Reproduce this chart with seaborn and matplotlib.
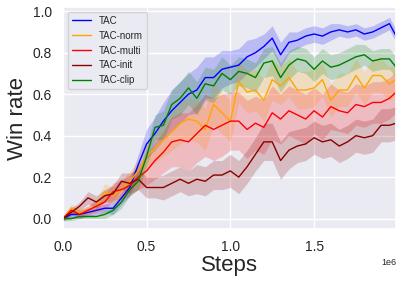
import numpy as np
import pandas as pd
import matplotlib
matplotlib.use("Agg")
import matplotlib.pyplot as plt
import seaborn as sns

# steps (in 1e6) at which the curves were read
steps = [0.0, 0.05, 0.1, 0.15, 0.2, 0.25, 0.3, 0.35, 0.4, 0.45,
         0.5, 0.55, 0.6, 0.65, 0.7, 0.75, 0.8, 0.85, 0.9, 0.95,
         1.0, 1.05, 1.1, 1.15, 1.2, 1.25, 1.3, 1.35, 1.4, 1.45,
         1.5, 1.55, 1.6, 1.65, 1.7, 1.75, 1.8, 1.85, 1.9, 1.95, 1.99]

tac = [0.0, 0.02, 0.02, 0.03, 0.04, 0.05, 0.05, 0.10, 0.15, 0.26,
       0.36, 0.41, 0.47, 0.52, 0.56, 0.60, 0.62, 0.68, 0.68, 0.72,
       0.73, 0.74, 0.78, 0.80, 0.83, 0.87, 0.79, 0.85, 0.86, 0.88,
       0.89, 0.88, 0.90, 0.91, 0.90, 0.91, 0.89, 0.90, 0.92, 0.94, 0.88]
tac_sd = [0.01, 0.02, 0.02, 0.02, 0.02, 0.02, 0.03, 0.03, 0.04, 0.05,
          0.07, 0.08, 0.09, 0.10, 0.10, 0.10, 0.11, 0.10, 0.10, 0.09,
          0.08, 0.08, 0.08, 0.07, 0.06, 0.06, 0.06, 0.05, 0.04, 0.04,
          0.04, 0.04, 0.04, 0.03, 0.03, 0.03, 0.03, 0.03, 0.03, 0.03, 0.03]

tac_norm = [0.0, 0.05, 0.03, 0.04, 0.06, 0.13, 0.11, 0.14, 0.18, 0.23,
            0.30, 0.34, 0.38, 0.42, 0.46, 0.48, 0.47, 0.43, 0.55, 0.51,
            0.47, 0.66, 0.61, 0.62, 0.57, 0.67, 0.64, 0.68, 0.62, 0.62,
            0.63, 0.67, 0.57, 0.62, 0.62, 0.69, 0.63, 0.69, 0.69, 0.65, 0.67]
tac_norm_sd = [0.01, 0.02, 0.02, 0.02, 0.03, 0.04, 0.04, 0.04, 0.05, 0.05,
               0.06, 0.07, 0.08, 0.09, 0.10, 0.10, 0.10, 0.10, 0.10, 0.10,
               0.10, 0.10, 0.10, 0.10, 0.10, 0.10, 0.09, 0.09, 0.09, 0.09,
               0.09, 0.08, 0.08, 0.08, 0.08, 0.08, 0.08, 0.08, 0.08, 0.08, 0.08]

tac_multi = [0.0, 0.04, 0.02, 0.04, 0.06, 0.08, 0.13, 0.14, 0.16, 0.20,
             0.23, 0.28, 0.32, 0.37, 0.38, 0.37, 0.41, 0.45, 0.43, 0.45,
             0.47, 0.47, 0.43, 0.46, 0.44, 0.51, 0.48, 0.52, 0.50, 0.48,
             0.52, 0.49, 0.54, 0.52, 0.51, 0.55, 0.54, 0.56, 0.56, 0.58, 0.61]
tac_multi_sd = [0.01, 0.02, 0.02, 0.02, 0.03, 0.04, 0.04, 0.05, 0.05, 0.06,
                0.07, 0.09, 0.10, 0.12, 0.13, 0.14, 0.14, 0.15, 0.15, 0.15,
                0.14, 0.14, 0.14, 0.13, 0.13, 0.13, 0.12, 0.12, 0.12, 0.12,
                0.11, 0.11, 0.11, 0.10, 0.10, 0.10, 0.10, 0.10, 0.10, 0.10, 0.10]

tac_init = [0.0, 0.03, 0.06, 0.10, 0.08, 0.11, 0.12, 0.18, 0.17, 0.19,
            0.15, 0.15, 0.15, 0.17, 0.19, 0.17, 0.19, 0.18, 0.21, 0.21,
            0.23, 0.20, 0.25, 0.31, 0.37, 0.37, 0.28, 0.33, 0.35, 0.36,
            0.39, 0.37, 0.38, 0.35, 0.37, 0.40, 0.39, 0.40, 0.45, 0.45, 0.46]
tac_init_sd = [0.01, 0.02, 0.02, 0.03, 0.03, 0.03, 0.04, 0.04, 0.05, 0.05,
               0.05, 0.05, 0.06, 0.06, 0.06, 0.06, 0.07, 0.07, 0.07, 0.07,
               0.08, 0.08, 0.08, 0.08, 0.09, 0.09, 0.09, 0.09, 0.08, 0.08,
               0.08, 0.08, 0.08, 0.08, 0.08, 0.08, 0.08, 0.08, 0.08, 0.08, 0.08]

tac_clip = [0.0, 0.0, 0.01, 0.01, 0.01, 0.02, 0.04, 0.08, 0.14, 0.18,
            0.30, 0.44, 0.45, 0.55, 0.58, 0.63, 0.58, 0.65, 0.64, 0.70,
            0.67, 0.71, 0.70, 0.68, 0.75, 0.76, 0.68, 0.74, 0.77, 0.76,
            0.72, 0.76, 0.73, 0.74, 0.76, 0.78, 0.79, 0.76, 0.77, 0.77, 0.73]
tac_clip_sd = [0.01, 0.01, 0.01, 0.01, 0.01, 0.02, 0.02, 0.03, 0.03, 0.04,
               0.05, 0.06, 0.07, 0.07, 0.08, 0.08, 0.08, 0.08, 0.08, 0.08,
               0.07, 0.07, 0.07, 0.07, 0.07, 0.07, 0.07, 0.07, 0.06, 0.06,
               0.06, 0.06, 0.06, 0.06, 0.06, 0.06, 0.05, 0.05, 0.05, 0.05, 0.05]

names = ["TAC", "TAC-norm", "TAC-multi", "TAC-init", "TAC-clip"]
means = [tac, tac_norm, tac_multi, tac_init, tac_clip]
spreads = [tac_sd, tac_norm_sd, tac_multi_sd, tac_init_sd, tac_clip_sd]
colors = ["blue", "orange", "red", "darkred", "green"]

sns.set_theme(style="darkgrid")
plt.rcParams["font.family"] = ["Liberation Sans", "DejaVu Sans"]

fig, ax = plt.subplots(figsize=(4.03, 2.82), dpi=100)
fig.subplots_adjust(left=0.156, right=0.983, top=0.975, bottom=0.188)

x = np.array(steps) * 1e6
for name, m, s, c in zip(names, means, spreads, colors):
    m = np.array(m)
    s = np.array(s)
    df = pd.DataFrame({"Steps": x, "Win rate": m})
    sns.lineplot(data=df, x="Steps", y="Win rate", color=c, linewidth=1.0,
                 label=name, ax=ax)
    ax.fill_between(x, m - s, m + s, color=c, alpha=0.2, linewidth=0)

ax.set_xlim(0, 1.99e6)
ax.set_ylim(-0.05, 1.02)
ax.set_xticks([0, 0.5e6, 1.0e6, 1.5e6])
ax.set_yticks([0.0, 0.2, 0.4, 0.6, 0.8, 1.0])
ax.tick_params(labelsize=10, pad=2)
ax.xaxis.get_offset_text().set_fontsize(6.5)
ax.set_xlabel("Steps", fontsize=16, labelpad=1)
ax.set_ylabel("Win rate", fontsize=16, labelpad=3)
ax.legend(loc="upper left", fontsize=7, framealpha=0.8)

fig.savefig("out.png", dpi=100)
